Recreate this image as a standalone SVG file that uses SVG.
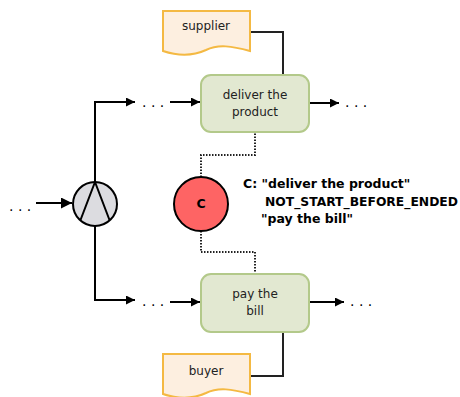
<svg xmlns="http://www.w3.org/2000/svg" width="460" height="397" viewBox="0 0 460 397">
  <defs>
    <marker id="arrow" viewBox="0 0 10 10" refX="10" refY="5" markerWidth="9" markerHeight="9" markerUnits="userSpaceOnUse" orient="auto">
      <path d="M0,0 L10,5 L0,10 z" fill="#000"/>
    </marker>
    <marker id="arrowL" viewBox="0 0 10 10" refX="10" refY="5" markerWidth="11" markerHeight="11" markerUnits="userSpaceOnUse" orient="auto">
      <path d="M0,0 L10,5 L0,10 z" fill="#000"/>
    </marker>
  </defs>
  <style>
    .task { fill: #e2e8d1; stroke: #b3c98a; stroke-width: 2; }
    .doc { fill: #fdefe0; stroke: #f4b943; stroke-width: 2; }
    .lbl { font-family: "DejaVu Sans", sans-serif; font-size: 12px; fill: #222; text-anchor: middle; }
    .dots { font-family: "DejaVu Sans", sans-serif; font-size: 14px; fill: #000; }
    .flow { fill: none; stroke: #000; stroke-width: 2; }
    .assoc { fill: none; stroke: #222; stroke-width: 2; }
    .dep { fill: none; stroke: #222; stroke-width: 2; stroke-dasharray: 1.5 1.5; }
    .note { font-family: "DejaVu Sans", sans-serif; font-size: 12.5px; font-weight: bold; fill: #000; }
  </style>

  <g id="connectors">
    <!-- incoming flow to gateway -->
    <path class="flow" d="M36,203 H72" marker-end="url(#arrowL)"/>
    <!-- split branches -->
    <path class="flow" d="M95,182 V102 H135" marker-end="url(#arrow)"/>
    <path class="flow" d="M95,226 V300 H135" marker-end="url(#arrow)"/>
    <!-- into tasks -->
    <path class="flow" d="M170,102 H200" marker-end="url(#arrow)"/>
    <path class="flow" d="M170,302 H200" marker-end="url(#arrow)"/>
    <!-- out of tasks -->
    <path class="flow" d="M309,103 H339" marker-end="url(#arrow)"/>
    <path class="flow" d="M309,302 H344" marker-end="url(#arrow)"/>
    <!-- resource associations -->
    <path class="assoc" d="M250,32 H283 V75"/>
    <path class="assoc" d="M283,332 V376 H250"/>
    <!-- constraint links -->
    <path class="dep" d="M201,177 V155 H255 V132"/>
    <path class="dep" d="M201,231 V252 H255 V274"/>
  </g>

  <g id="dots">
    <text class="dots" x="9" y="211">. . .</text>
    <text class="dots" x="142" y="107">. . .</text>
    <text class="dots" x="142" y="306">. . .</text>
    <text class="dots" x="345" y="107">. . .</text>
    <text class="dots" x="350" y="306">. . .</text>
  </g>

  <g id="gateway">
    <circle cx="95" cy="204" r="22" fill="#dcdce0" stroke="#000" stroke-width="2"/>
    <path d="M80.5,220 L95,182 L109.5,220" fill="none" stroke="#000" stroke-width="2"/>
  </g>

  <g id="supplier">
    <path class="doc" d="M163,11 H250 V51 C232,46 218,44 206,50 C193,56 178,56 163,51 Z"/>
    <text class="lbl" x="206" y="30">supplier</text>
  </g>

  <g id="deliver">
    <rect class="task" x="201" y="75" width="108" height="57" rx="10"/>
    <text class="lbl" x="255" y="99">deliver the</text>
    <text class="lbl" x="255" y="116">product</text>
  </g>

  <g id="constraint">
    <circle cx="201" cy="204" r="27" fill="#fe6464" stroke="#000" stroke-width="2"/>
    <text class="note" x="201" y="208" text-anchor="middle">C</text>
  </g>

  <g id="constraint-note">
    <text class="note" x="243" y="188">C: "deliver the product"</text>
    <text class="note" x="265" y="206" textLength="193" lengthAdjust="spacingAndGlyphs">NOT_START_BEFORE_ENDED</text>
    <text class="note" x="261" y="223">"pay the bill"</text>
  </g>

  <g id="pay">
    <rect class="task" x="201" y="274" width="108" height="58" rx="10"/>
    <text class="lbl" x="255" y="298">pay the</text>
    <text class="lbl" x="255" y="315">bill</text>
  </g>

  <g id="buyer">
    <path class="doc" d="M163,354 H250 V394 C232,389 218,387 206,393 C193,399 178,399 163,394 Z"/>
    <text class="lbl" x="206" y="375">buyer</text>
  </g>
</svg>
